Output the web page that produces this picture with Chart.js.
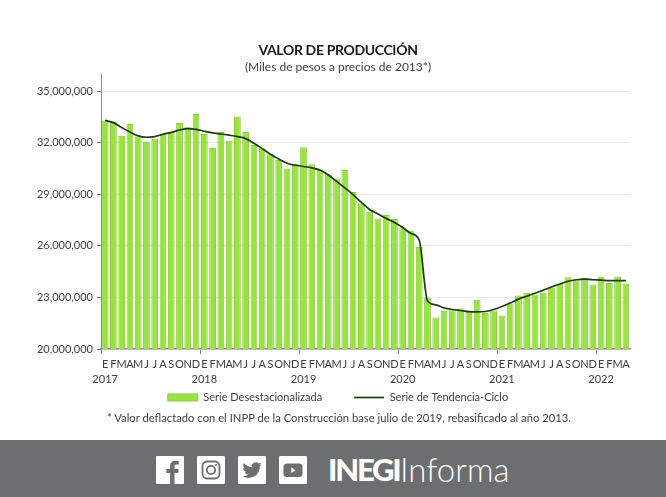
<!DOCTYPE html>
<html>
<head>
<meta charset="utf-8">
<script src="https://cdn.jsdelivr.net/npm/chart.js@4"></script>
<style>
html,body{margin:0;padding:0;background:#fff;overflow:hidden}
body{width:666px;height:497px;position:relative;font-family:Lato,sans-serif;color:#262626}
canvas{position:absolute;left:0;top:0}
.txt{position:absolute;white-space:nowrap;text-align:center;left:0;width:676px}
#titulo{top:41px;font-size:14px;font-weight:700;letter-spacing:-.35px;color:#1a1a1a}
#subtitulo{top:59px;font-size:12px;color:#404040}
#nota{top:411px;font-size:11.25px;left:107px;width:auto;color:#404040}
#pie{position:absolute;left:0;top:440px;width:666px;height:57px;background:#6d6e70}
#pie svg{position:absolute;top:16px;width:28px;height:28px}
#inegi{position:absolute;left:328px;top:10px;font-size:31px;font-weight:900;color:#fff;letter-spacing:-2.2px}
#informa{position:absolute;left:400px;top:9px;font-size:33px;font-weight:300;color:#fff}
</style>
</head>
<body>
<canvas id="myChart" width="666" height="440"></canvas>
<div class="txt" id="titulo">VALOR DE PRODUCCIÓN</div>
<div class="txt" id="subtitulo">(Miles de pesos a precios de 2013*)</div>
<div class="txt" id="nota">* Valor deflactado con el INPP de la Construcción base julio de 2019, rebasificado al año 2013.</div>
<div id="pie">
  <svg style="left:156px" viewBox="0 0 28 28"><rect width="28" height="28" rx="1" fill="#fff"/><path fill="#6d6e70" d="M18.5 28V17h3.6l.6-4h-4.2v-2.5c0-1.2.4-2 2-2h2.3V5c-.5-.1-1.8-.2-3.3-.2-3.3 0-5.4 2-5.4 5.4V13h-3.7v4h3.7v11z"/></svg>
  <svg style="left:197px" viewBox="0 0 28 28"><rect width="28" height="28" rx="1" fill="#fff"/><rect x="5.5" y="5.5" width="17" height="17" rx="4.5" fill="none" stroke="#6d6e70" stroke-width="1.8"/><circle cx="14" cy="14" r="4.2" fill="none" stroke="#6d6e70" stroke-width="1.8"/><circle cx="19" cy="9" r="1.1" fill="#6d6e70"/></svg>
  <svg style="left:238px" viewBox="0 0 28 28"><rect width="28" height="28" rx="1" fill="#fff"/><g transform="translate(4.5 4.5) scale(.8)"><path fill="#6d6e70" d="M23.95 4.57a10 10 0 0 1-2.82.77 4.96 4.96 0 0 0 2.16-2.72c-.95.55-2 .96-3.12 1.2a4.92 4.92 0 0 0-8.38 4.48C7.69 8.1 4.07 6.13 1.64 3.16a4.82 4.82 0 0 0-.67 2.48c0 1.71.87 3.21 2.19 4.1a4.9 4.9 0 0 1-2.23-.62v.06a4.92 4.92 0 0 0 3.95 4.83 5 5 0 0 1-2.21.08 4.94 4.94 0 0 0 4.6 3.42A9.87 9.87 0 0 1 0 19.54a13.94 13.94 0 0 0 7.55 2.21c9.05 0 14-7.5 14-13.98 0-.21 0-.42-.02-.63a9.94 9.94 0 0 0 2.46-2.55z"/></g></svg>
  <svg style="left:279px" viewBox="0 0 28 28"><rect width="28" height="28" rx="1" fill="#fff"/><rect x="4.5" y="7.5" width="19" height="13.5" rx="3.5" fill="#6d6e70"/><path fill="#fff" d="M12.3 11.6v5.4l4.4-2.7z"/></svg>
  <div id="inegi">INEGI</div>
  <div id="informa">Informa</div>
</div>
<script>
const meses = ['E','F','M','A','M','J','J','A','S','O','N','D']
const anios = ['2017','2018','2019','2020','2021','2022']
const marcasY = [20000000,23000000,26000000,29000000,32000000,35000000]

const desestacionalizada = [
  33300000,33240000,32410000,33090000,32360000,32050000,32240000,32490000,32590000,33150000,32900000,33670000,
  32510000,31700000,32630000,32120000,33530000,32630000,31870000,31680000,31330000,30990000,30500000,30760000,
  31740000,30750000,30410000,30170000,29920000,30410000,29130000,28470000,27990000,27590000,27800000,27570000,
  27070000,26890000,25930000,22990000,21840000,22220000,22250000,22360000,22160000,22860000,22100000,22240000,
  21950000,22650000,23110000,23280000,23170000,23280000,23570000,23800000,24170000,24000000,24130000,23750000,
  24210000,23840000,24210000,23800000
]
const tendencia = [
  33300000,33170000,32880000,32630000,32400000,32320000,32360000,32490000,32600000,32740000,32820000,32780000,
  32670000,32570000,32510000,32440000,32360000,32240000,31970000,31660000,31330000,31050000,30810000,30690000,
  30620000,30540000,30410000,30120000,29750000,29370000,28980000,28530000,28120000,27860000,27600000,27360000,
  27070000,26720000,26330000,22800000,22570000,22390000,22300000,22240000,22180000,22160000,22180000,22300000,
  22470000,22680000,22900000,23070000,23240000,23420000,23610000,23780000,23940000,24030000,24070000,24030000,
  24010000,23980000,23980000,23980000
]

// una etiqueta por mes, con el año debajo de cada enero
const etiquetas = desestacionalizada.map((v, i) => {
  const mes = meses[i % 12]
  return i % 12 === 0 ? [mes, anios[i / 12]] : mes
})

// the legend padding is also its gap, so pull the box up into that space
const moverLeyenda = {
  id: 'moverLeyenda',
  afterLayout(chart) {
    chart.legend.top -= 27
    chart.legend.left += 6
    chart.legend.right += 6
  }
}

const ctx = document.getElementById('myChart')
new Chart(ctx, {
  type: 'bar',
  plugins: [moverLeyenda],
  data: {
    labels: etiquetas,
    datasets: [{
      label: 'Serie Desestacionalizada',
      data: desestacionalizada,
      backgroundColor: '#98e340',
      borderColor: '#8acb3f',
      borderWidth: 1,
      barPercentage: 0.82,
      categoryPercentage: 1,
      order: 2
    }, {
      type: 'line',
      label: 'Serie de Tendencia-Ciclo',
      data: tendencia,
      borderColor: '#1f3a17',
      borderWidth: 1.7,
      pointRadius: 0,
      cubicInterpolationMode: 'monotone',
      order: 1
    }]
  },
  options: {
    responsive: false,
    animation: false,
    layout: { padding: { top: 74, right: 36, bottom: 0, left: 34 } },
    scales: {
      x: {
        afterFit: s => { s.height = 38 },
        grid: {
          drawOnChartArea: false,
          tickLength: 5,
          tickColor: c => c.index % 12 === 0 ? '#808080' : 'transparent'
        },
        border: { color: '#8c8c8c', width: 1.5 },
        ticks: {
          autoSkip: false,
          maxRotation: 0,
          padding: 3,
          color: '#404040',
          font: { family: 'Lato', size: 11, lineHeight: 1.35 }
        }
      },
      y: {
        min: 20000000,
        max: 36000000,
        afterFit: s => { s.width = 67 },
        afterBuildTicks: s => { s.ticks = marcasY.map(value => ({ value })) },
        grid: { color: '#e6e6e6', tickColor: '#808080', tickLength: 4 },
        border: { color: '#8c8c8c', width: 1 },
        ticks: {
          padding: 4,
          color: '#404040',
          font: { family: 'Lato', size: 11 },
          callback: v => v.toLocaleString('en-US')
        }
      }
    },
    plugins: {
      tooltip: { enabled: false },
      legend: {
        position: 'bottom',
        labels: {
          usePointStyle: true,
          pointStyleWidth: 30,
          boxHeight: 7,
          padding: 32,
          color: '#404040',
          font: { family: 'Lato', size: 11 },
          sort: (a, b) => a.datasetIndex - b.datasetIndex,
          generateLabels: chart => {
            const items = Chart.defaults.plugins.legend.labels.generateLabels(chart)
            items.forEach(it => { it.pointStyle = it.datasetIndex === 0 ? 'rect' : 'line' })
            return items
          }
        }
      }
    }
  }
})
</script>
</body>
</html>
